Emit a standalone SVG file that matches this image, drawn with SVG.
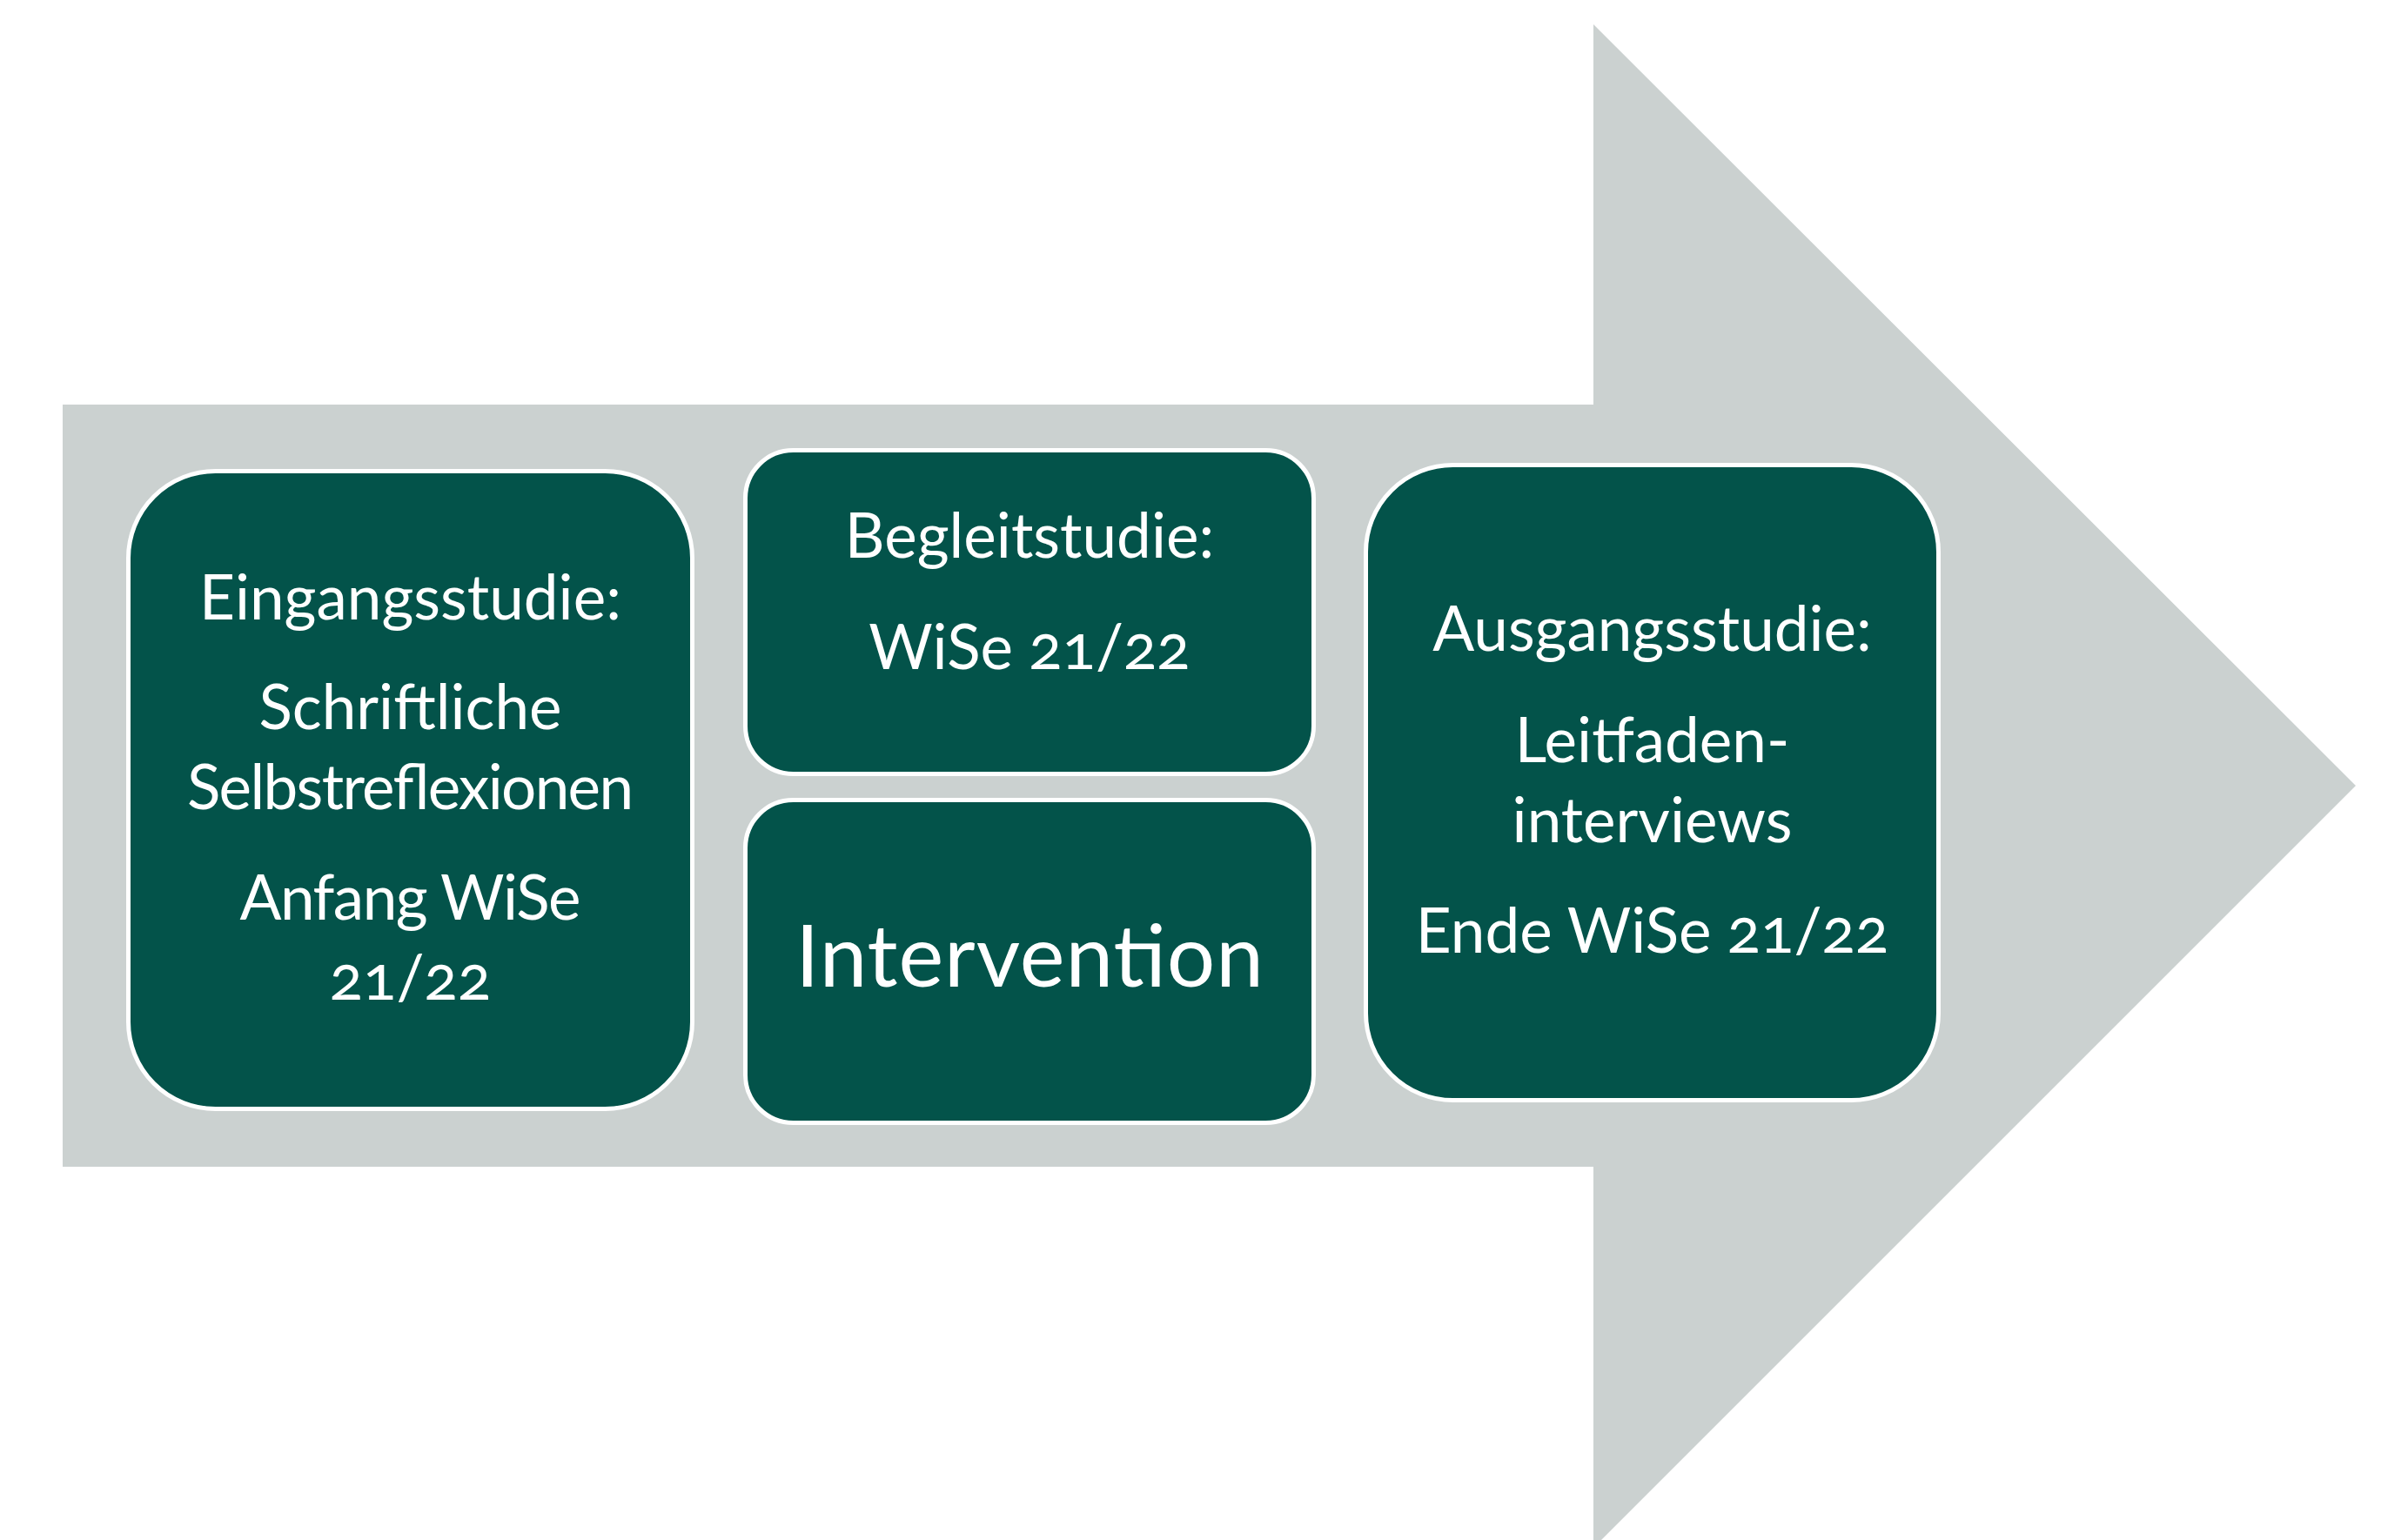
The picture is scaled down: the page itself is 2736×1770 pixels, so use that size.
<svg xmlns="http://www.w3.org/2000/svg" width="2736" height="1770" viewBox="0 0 2736 1770">
  <style>
    .box { fill: #03534A; stroke: #FFFFFF; stroke-width: 5; }
    .t { fill: #FFFFFF; font-family: Lato, "Open Sans", "Liberation Sans", sans-serif; font-size: 71px; text-anchor: middle; }
    .big { font-size: 98px; }
    .num { font-variant-numeric: oldstyle-nums; font-feature-settings: "onum" 1; }
  </style>
  <rect x="0" y="0" width="2736" height="1770" fill="#FFFFFF"/>
  <g id="arrow">
    <polygon points="72,465 1831,465 1831,28 2707,903 1831,1779 1831,1341 72,1341" fill="#CBD1D0"/>
  </g>
  <g id="connectors"></g>
  <g id="eingangsstudie">
    <rect class="box" x="147.5" y="541.5" width="648" height="733" rx="100" ry="100"/>
    <text class="t" x="471.5" y="712">Eingangsstudie:</text>
    <text class="t" x="471.5" y="838">Schriftliche</text>
    <text class="t" x="471.5" y="930" textLength="513" lengthAdjust="spacing">Selbstreflexionen</text>
    <text class="t" x="471.5" y="1057" textLength="392" lengthAdjust="spacing">Anfang WiSe</text>
    <text class="t num" x="471.5" y="1149">21/22</text>
  </g>
  <g id="begleitstudie">
    <rect class="box" x="856.5" y="517.5" width="653" height="372" rx="55" ry="55"/>
    <text class="t" x="1183" y="641">Begleitstudie:</text>
    <text class="t num" x="1183" y="769">WiSe 21/22</text>
  </g>
  <g id="intervention">
    <rect class="box" x="856.5" y="919.5" width="653" height="371" rx="55" ry="55"/>
    <text class="t big" x="1183" y="1134" textLength="538" lengthAdjust="spacing">Intervention</text>
  </g>
  <g id="ausgangsstudie">
    <rect class="box" x="1569.5" y="534.5" width="658" height="730" rx="100" ry="100"/>
    <text class="t" x="1898.5" y="748">Ausgangsstudie:</text>
    <text class="t" x="1898.5" y="876">Leitfaden-</text>
    <text class="t" x="1898.5" y="968">interviews</text>
    <text class="t num" x="1898.5" y="1095">Ende WiSe 21/22</text>
  </g>
</svg>
